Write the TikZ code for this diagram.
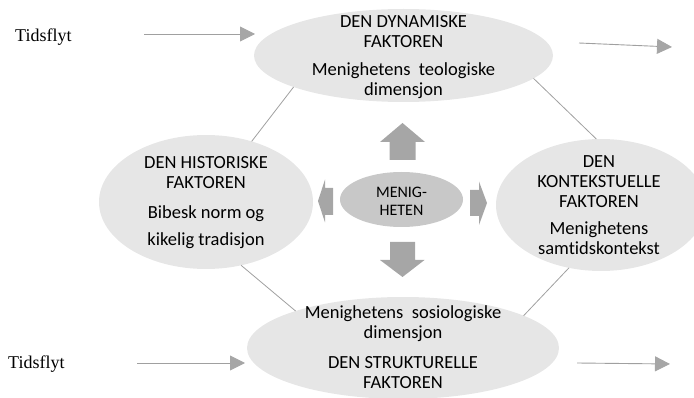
\documentclass[tikz,border=0pt]{standalone}
\usepackage{fontspec}
\setmainfont{Carlito}[Ligatures=NoCommon]
\newfontfamily\tidfont{Liberation Serif}
\usetikzlibrary{arrows.meta,shapes.geometric}

\definecolor{ellipsegra}{RGB}{230,230,230}
\definecolor{kjernegra}{RGB}{200,200,200}
\definecolor{pilgra}{RGB}{166,166,166}
\definecolor{linjegra}{RGB}{160,160,160}

\tikzset{
  faktor/.style={ellipse,fill=ellipsegra,inner sep=0pt,outer sep=0pt},
  tekst/.style={align=center,inner sep=0pt,font=\fontsize{18.5}{20}\selectfont},
  tid/.style={anchor=base west,inner sep=0pt,font=\tidfont\fontsize{18}{20}\selectfont},
  tidpil/.style={draw=linjegra,line width=0.9pt,-{Triangle[length=15pt,width=15pt,color=pilgra]}},
  linje/.style={draw=linjegra,line width=0.8pt},
  blokkpil/.style={fill=pilgra}
}

\begin{document}
\begin{tikzpicture}[x=1pt,y=-1pt]
\useasboundingbox (0,0) rectangle (694,398);

% Faktorene
\node[faktor,minimum width=299pt,minimum height=93pt] (dynamisk) at (403.5,55.5) {};
\node[faktor,minimum width=214pt,minimum height=134pt] (historisk) at (206,202) {};
\node[faktor,minimum width=210pt,minimum height=132pt] (kontekst) at (601,205) {};
\node[faktor,minimum width=312pt,minimum height=102pt] (struktur) at (403,348) {};
\node[faktor,fill=kjernegra,minimum width=123pt,minimum height=55pt] (menighet) at (401.5,199.5) {};

% Tekster
\node[tekst] (dynamisktekst) at (403.5,57.3) {DEN DYNAMISKE\\FAKTOREN\\[8pt]Menighetens\ \ teologiske\\dimensjon};
\node[tekst] (historisktekst) at (206,202.8) {DEN HISTORISKE\\FAKTOREN\\[10pt]Bibesk norm og\\[7pt]kikelig tradisjon};
\node[tekst] (konteksttekst) at (599,205.5) {DEN\\KONTEKSTUELLE\\FAKTOREN\\[7pt]Menighetens\\samtidskontekst};
\node[tekst] (strukturtekst) at (403,347) {Menighetens\ \ sosiologiske\\dimensjon\\[10pt]DEN STRUKTURELLE\\FAKTOREN};
\node[tekst,font=\fontsize{16}{18}\selectfont] (menighettekst) at (401.5,201.5) {MENIG-\\HETEN};

% Tidsflyt
\node[tid] (tidopp) at (15,42) {Tidsflyt};
\node[tid] (tidned) at (8,368) {Tidsflyt};
\coordinate (a1) at (144,34);  \coordinate (a2) at (255,34);
\coordinate (b1) at (579,43);  \coordinate (b2) at (672,47);
\coordinate (c1) at (137,363); \coordinate (c2) at (245,363);
\coordinate (d1) at (577,363); \coordinate (d2) at (670,364);
\draw[tidpil] (a1) -- (a2);
\draw[tidpil] (b1) -- (b2);
\draw[tidpil] (c1) -- (c2);
\draw[tidpil] (d1) -- (d2);

% Linjer mellom faktorene
\draw[linje] (dynamisk.196.7) -- (historisk.53.7);
\draw[linje] (dynamisk.350) -- (kontekst.94.5);
\draw[linje] (historisk.299.8) -- (struktur.161.5);
\draw[linje] (kontekst.243.8) -- (struktur.15);

% Blokkpiler
\fill[blokkpil] (389.5,160) -- (389.5,142) -- (380,142) -- (402.5,123) -- (425,142) -- (415.5,142) -- (415.5,160) -- cycle;
\fill[blokkpil] (390,242) -- (415,242) -- (415,260) -- (424.5,260) -- (402.5,277) -- (380,260) -- (390,260) -- cycle;
\fill[blokkpil] (333,188) -- (325,188) -- (325,179.5) -- (318,201) -- (325,222.5) -- (325,215) -- (333,215) -- cycle;
\fill[blokkpil] (470,190) -- (479,190) -- (479,181.5) -- (487,203) -- (479,225) -- (479,216) -- (470,216) -- cycle;
\end{tikzpicture}
\end{document}
